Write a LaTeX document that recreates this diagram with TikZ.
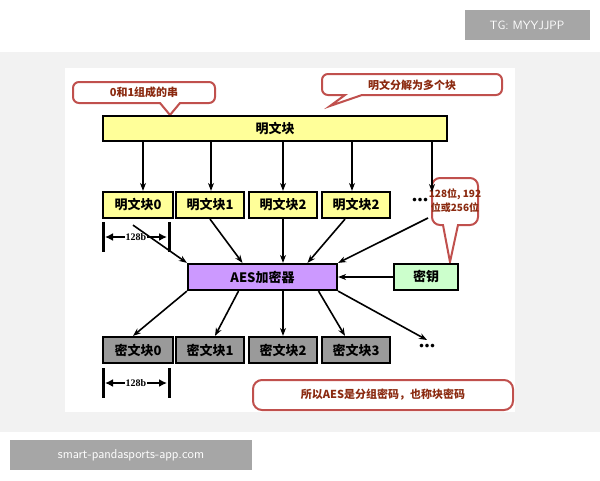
\documentclass[tikz,border=0pt]{standalone}
\usepackage{fontspec}
\setmainfont{Liberation Serif}
\newfontfamily\cjk{Noto Sans CJK SC}
\usetikzlibrary{positioning,calc,arrows.meta}
\definecolor{plainyel}{HTML}{FFFF99}
\definecolor{aespurp}{HTML}{CC99FF}
\definecolor{keygreen}{HTML}{CCFFCC}
\definecolor{ciphgray}{HTML}{9A9A9A}
\definecolor{notered}{HTML}{C0504D}
\definecolor{notetxt}{HTML}{8B2A10}
\tikzset{
  blk/.style={draw,line width=2.2pt,minimum height=26pt,inner sep=0pt,font=\cjk\bfseries\fontsize{13}{13}\selectfont},
  plainblk/.style={blk,fill=plainyel,minimum width=68pt},
  ciphblk/.style={blk,fill=ciphgray,minimum width=68pt},
  note/.style={draw=notered,line width=2pt,fill=white,rounded corners=6pt},
  notetext/.style={text=notetxt,font=\cjk\bfseries\fontsize{11}{13}\selectfont,align=center},
  arr/.style={-{Stealth[length=8pt,width=6pt]},line width=1.6pt},
  dimbar/.style={line width=3pt},
}
\begin{document}
\begin{tikzpicture}[x=1pt,y=-1pt]
  \useasboundingbox (0,0) rectangle (600,480);
  \fill[white] (0,0) rectangle (600,480);
  \fill[black!5] (0,52) rectangle (600,432);
  \fill[white] (65,68) rectangle (515,412);
  % watermarks
  \fill[black!35] (465,10) rectangle (590,40);
  \node[white,font=\sffamily\fontsize{12}{12}\selectfont] (tg) at (527,25) {TG: MYYJJPP};
  \fill[black!35] (10,440) rectangle (252,470);
  \node[white,font=\sffamily\fontsize{13}{13}\selectfont] (site) at (131,455) {smart-pandasports-app.com};

  % callouts
  \draw[note] (170,115) [sharp corners]-- (160,103) [rounded corners=6pt]-- (73,103) -- (73,82) -- (215,82) -- (215,103) [sharp corners]-- (180,103) -- cycle;
  \node[notetext] (n1) at (144,92) {0和1组成的串};
  \draw[note] (330,106) [sharp corners]-- (345,95) [rounded corners=6pt]-- (322,95) -- (322,74) -- (502,74) -- (502,95) [sharp corners]-- (362,95) -- cycle;
  \node[notetext] (n2) at (412,85) {明文分解为多个块};
  \draw[note] (450,262) [sharp corners]-- (443,225) [rounded corners=8pt]-- (432,225) -- (432,178) -- (478,178) -- (478,225) [sharp corners]-- (458,225) -- cycle;
  \node[notetext,font=\cjk\bfseries\fontsize{10}{14}\selectfont] (n3) at (455,201) {128位, 192\\位或256位};
  \node[note,notetext,minimum width=260pt,minimum height=30pt,rounded corners=9pt] (n4) at (383,395) {所以AES是分组密码，也称块密码};

  % plaintext
  \node[blk,fill=plainyel,minimum width=344pt,minimum height=25pt] (plain) at (275,128.5) {明文块};
  \node[plainblk,minimum width=70pt] (p0) at (138,205) {明文块0};
  \node[plainblk] (p1) at (210,205) {明文块1};
  \node[plainblk] (p2) at (283,205) {明文块2};
  \node[plainblk] (p3) at (356,205) {明文块2};
  \node[font=\bfseries\fontsize{22}{22}\selectfont] (pdots) at (420,200) {...};
  \foreach \b/\x in {p0/143,p1/211,p2/283,p3/352}
    \draw[arr] (plain.south -| \x,0) -- (\b.north -| \x,0);
  \coordinate (pend) at (432,192);
  \draw[arr] (plain.south -| pend) -- (pend);

  % encryptor and key
  \node[blk,fill=aespurp,minimum width=149pt] (aes) at (262.5,277) {AES加密器};
  \node[blk,fill=keygreen,minimum width=64pt] (key) at (426,277) {密钥};
  \draw[arr] (key) -- (aes);
  \coordinate (pin) at (428,218);
  \draw[arr] ($(p0.south)+(-5,6)$) -- (aes.north west);
  \draw[arr] (p1.south) -- ($(aes.north)+(-20,0)$);
  \draw[arr] (p2.south) -- (aes.north -| p2.south);
  \draw[arr] ($(p3.south)+(-11,0)$) -- ($(aes.north)+(45,0)$);
  \draw[arr] (pin) -- (aes.north east);

  % ciphertext
  \node[ciphblk,minimum width=70pt] (c0) at (138,350) {密文块0};
  \node[ciphblk] (c1) at (210,350) {密文块1};
  \node[ciphblk] (c2) at (283,350) {密文块2};
  \node[ciphblk] (c3) at (356,350) {密文块3};
  \node[font=\bfseries\fontsize{22}{22}\selectfont] (cdots) at (427,346) {...};
  \coordinate (cend) at (427,340);
  \draw[arr] (aes.south west) -- ($(c0.north)+(-5,0)$);
  \draw[arr] ($(aes.south)+(-24,0)$) -- ($(c1.north)+(5,0)$);
  \draw[arr] (aes.south -| c2.north) -- (c2.north);
  \draw[arr] ($(aes.south)+(56,0)$) -- ($(c3.north)+(-11,0)$);
  \draw[arr] (aes.south east) -- (cend);

  % widths
  \foreach \y/\nm in {237/wa,383/wb}{
    \draw[dimbar] (103,\y-15) -- (103,\y+15);
    \draw[dimbar] (169,\y-15) -- (169,\y+15);
    \node[font=\bfseries\fontsize{10}{10}\selectfont,inner sep=1pt] (\nm) at (136,\y) {128b};
    \draw[-{Latex[length=8pt,width=8pt]},line width=2.2pt] (\nm.west) -- (105,\y);
    \draw[-{Latex[length=8pt,width=8pt]},line width=2.2pt] (\nm.east) -- (167,\y);
  }
\end{tikzpicture}
\end{document}
